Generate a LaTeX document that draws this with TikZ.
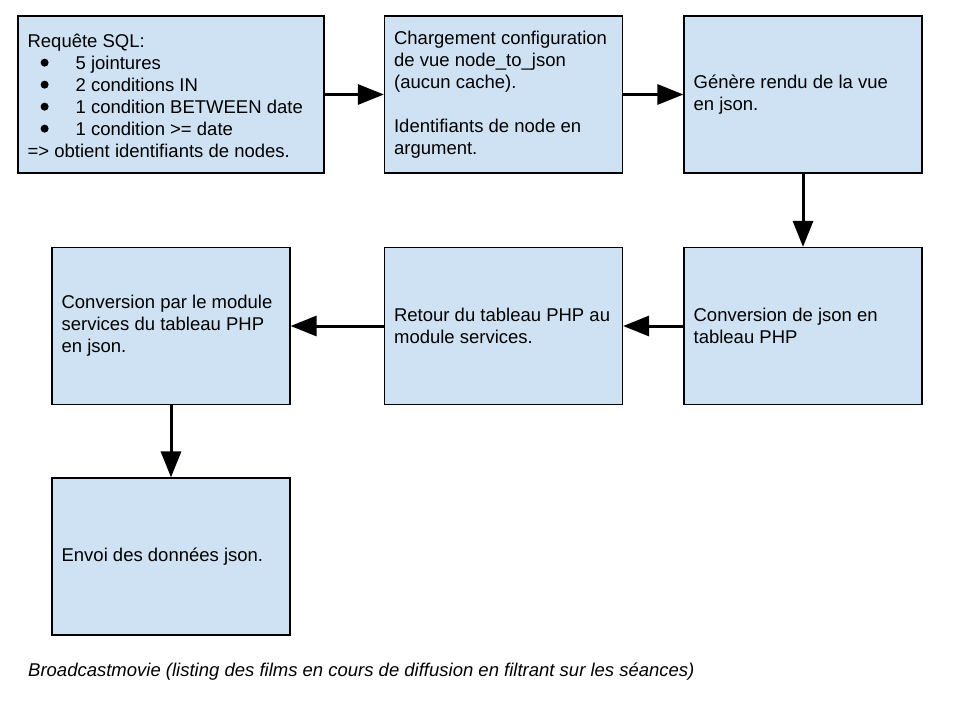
\documentclass[tikz,border=0pt]{standalone}
\usepackage{fontspec}
\setmainfont{Liberation Sans}
\usetikzlibrary{arrows.meta}
\definecolor{boxblue}{HTML}{CFE2F3}
\tikzset{
  stepbox/.style={draw=black, line width=1.2pt, fill=boxblue, rectangle,
    minimum height=157pt, inner sep=0pt},
  wide/.style={minimum width=306pt},
  narrow/.style={minimum width=238pt},
  boxtext/.style={anchor=west, inner sep=0pt, align=left,
    font=\fontsize{18.5}{22}\selectfont},
  flow/.style={line width=3pt, -{Triangle[length=26pt,width=20pt]}},
}
\newcommand{\blt}{\hspace*{13pt}\makebox[35pt][l]{\tikz[baseline=-6.5pt]\fill[black] (4pt,0pt) circle[radius=4pt];}}
\begin{document}
\begin{tikzpicture}[x=1pt,y=-1pt]
\useasboundingbox (0,0) rectangle (953,701);
\node[stepbox,wide]   (b1) at (171,94.5) {};
\node[stepbox,narrow] (b2) at (503.5,94.5) {};
\node[stepbox,narrow] (b3) at (803,94.5) {};
\node[stepbox,narrow] (b4) at (803,326) {};
\node[stepbox,narrow] (b5) at (503.5,326) {};
\node[stepbox,narrow] (b6) at (171,326) {};
\node[stepbox,narrow] (b7) at (171,556.5) {};
\node[boxtext] (t1) at ([xshift=10pt,yshift=-1pt]b1.west) {Requête SQL:\\\blt 5 jointures\\\blt 2 conditions IN\\\blt 1 condition BETWEEN date\\\blt 1 condition >= date\\=> obtient identifiants de nodes.};
\node[boxtext] (t2) at ([xshift=10pt]b2.west) {Chargement configuration\\de vue node\_to\_json\\(aucun cache).\\[22pt]Identifiants de node en\\argument.};
\node[boxtext] (t3) at ([xshift=10pt]b3.west) {Génère rendu de la vue\\en json.};
\node[boxtext] (t4) at ([xshift=10pt]b4.west) {Conversion de json en\\tableau PHP};
\node[boxtext] (t5) at ([xshift=10pt]b5.west) {Retour du tableau PHP au\\module services.};
\node[boxtext] (t6) at ([xshift=10pt]b6.west) {Conversion par le module\\services du tableau PHP\\en json.};
\node[boxtext] (t7) at ([xshift=10pt]b7.west) {Envoi des données json.};
\draw[flow] (b1) -- (b2);
\draw[flow] (b2) -- (b3);
\draw[flow] (b3) -- (b4);
\draw[flow] (b4) -- (b5);
\draw[flow] (b5) -- (b6);
\draw[flow] (b6) -- (b7);
\node[anchor=base west, inner sep=0pt, font=\fontsize{18.5}{22}\selectfont\itshape] (cap) at (28,676) {Broadcastmovie (listing des films en cours de diffusion en filtrant sur les séances)};
\end{tikzpicture}
\end{document}
